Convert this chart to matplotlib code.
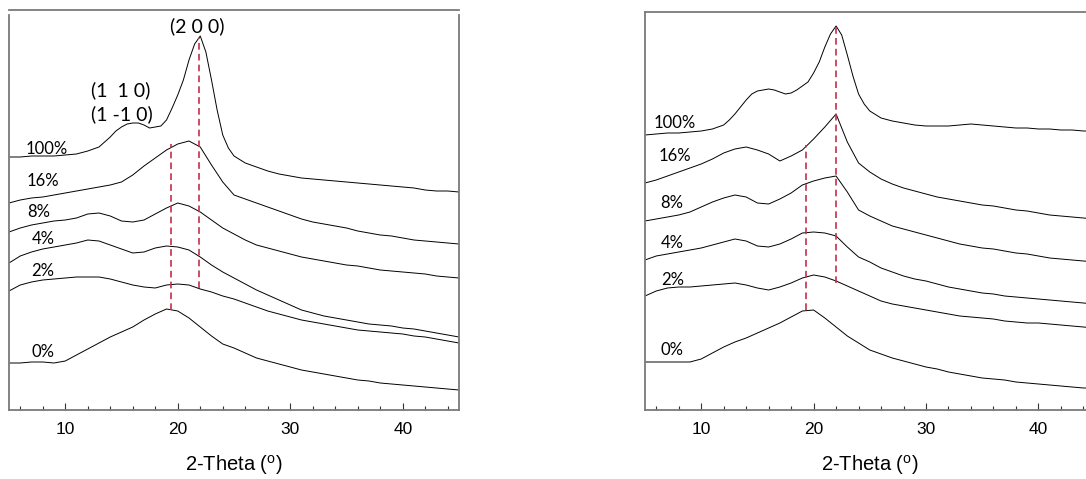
import matplotlib
matplotlib.use("Agg")
import matplotlib.pyplot as plt
import numpy as np

# ---------- data (arbitrary intensity units, stacked) ----------
two_theta = list(range(5, 46))
two_theta_100 = (list(range(5, 13))
                 + [12.5, 13, 13.5, 14, 14.5, 15, 15.5, 16, 16.5, 17,
                    17.5, 18, 18.5, 19, 19.5, 20, 20.5, 21, 21.5, 22, 22.5, 23, 23.5, 24, 24.5]
                 + list(range(25, 46)))

# left panel
left_100 = [253, 253, 254, 254, 254, 255, 256, 259,
            261, 263, 268, 273, 279, 283, 286, 287, 287, 285,
            282, 283, 284, 290, 302, 315, 330, 350, 366, 374, 358, 330, 300, 275, 262,
            254, 247, 243, 239, 236, 234, 232, 231, 230, 229, 228, 227, 226, 225, 224,
            223, 222, 220, 219, 219, 218]
left_16 = [207, 210, 212, 213, 215, 217, 219, 221, 223, 225, 228, 235, 244, 252, 260,
           266, 269, 263, 245, 228, 215, 211, 207, 203, 199, 195, 191, 188, 186, 184,
           182, 179, 177, 175, 174, 172, 170, 169, 168, 167, 166]
left_8 = [178, 182, 185, 187, 189, 190, 192, 196, 197, 194, 189, 188, 190, 196, 202,
          207, 204, 198, 190, 182, 176, 170, 165, 162, 159, 156, 153, 151, 149, 147,
          145, 144, 142, 140, 139, 138, 137, 136, 134, 133, 132]
left_4 = [147, 154, 158, 161, 163, 165, 167, 170, 169, 165, 161, 157, 158, 162, 164,
          163, 160, 153, 145, 138, 132, 126, 120, 115, 110, 105, 100, 97, 94, 92,
          90, 88, 86, 85, 84, 82, 81, 79, 77, 75, 73]
left_2 = [119, 125, 128, 130, 131, 132, 133, 133, 133, 131, 128, 125, 123, 122, 125,
          126, 125, 121, 118, 114, 111, 107, 103, 99, 96, 93, 90, 88, 86, 84,
          82, 80, 79, 78, 77, 76, 74, 73, 71, 69, 67]
left_0 = [47, 47, 48, 48, 47, 49, 55, 61, 67, 73, 78, 83, 90, 96, 101,
          99, 92, 83, 74, 66, 62, 57, 52, 49, 46, 43, 40, 38, 36, 34,
          32, 30, 29, 27, 26, 25, 24, 23, 22, 21, 20]

# right panel
right_100 = [275, 276, 277, 277, 278, 279, 281, 285,
             290, 296, 303, 310, 316, 319, 320, 321, 320, 318,
             316, 317, 320, 324, 328, 337, 348, 363, 376, 384, 375, 355, 334, 316, 306,
             299, 292, 289, 287, 285, 284, 284, 284, 285, 286, 285, 284, 283, 282, 282,
             281, 281, 280, 280, 279, 279]
right_16 = [227, 230, 234, 238, 242, 246, 251, 257, 261, 263, 260, 256, 249, 254, 260,
            271, 283, 296, 268, 247, 238, 231, 226, 222, 219, 216, 213, 211, 209, 207,
            205, 204, 202, 200, 199, 197, 195, 194, 193, 192, 191]
right_8 = [189, 191, 193, 195, 198, 203, 208, 212, 215, 213, 207, 206, 211, 217, 225,
           229, 232, 234, 218, 200, 194, 189, 184, 181, 178, 175, 172, 169, 166, 164,
           162, 161, 159, 157, 156, 154, 152, 151, 150, 149, 148]
right_4 = [150, 154, 156, 158, 160, 162, 165, 168, 171, 169, 164, 163, 166, 171, 177,
           178, 177, 174, 163, 153, 148, 142, 138, 134, 131, 129, 126, 123, 121, 119,
           117, 116, 114, 113, 112, 111, 110, 109, 108, 107, 106]
right_2 = [114, 119, 122, 123, 123, 124, 125, 126, 127, 125, 122, 120, 123, 127, 132,
           135, 133, 129, 124, 119, 114, 109, 106, 104, 102, 100, 98, 96, 94, 93,
           92, 91, 89, 88, 87, 87, 86, 85, 84, 83, 82]
right_0 = [48, 48, 48, 48, 48, 51, 57, 63, 68, 72, 77, 82, 87, 93, 99,
           100, 92, 83, 74, 67, 60, 56, 52, 49, 46, 43, 41, 38, 36, 34,
           32, 31, 30, 28, 27, 26, 25, 24, 23, 22, 22]

sample_labels = ["100%", "16%", "8%", "4%", "2%", "0%"]

# dashed reference lines: position, bottom, top
left_peaks = [19.4, 21.9]
left_peak_lo = [100, 122]
left_peak_hi = [266, 372]
right_peaks = [19.3, 22.0]
right_peak_lo = [100, 127]
right_peak_hi = [265, 384]

# label anchors (x in degrees, y in intensity units)
left_label_x = [6.5, 6.6, 6.6, 7.0, 7.0, 7.0]
left_label_y = [261, 229, 198, 171, 139, 58]
right_label_x = [5.8, 6.2, 6.4, 6.4, 6.4, 6.4]
right_label_y = [287, 254, 207, 167, 130, 60]

# ---------- figure ----------
W, H = 1086, 479
fig = plt.figure(figsize=(W / 100, H / 100), dpi=100)

SPINE = "#7a7a7a"
RED = "#c4304c"
LABEL_FONT = ["Lato", "DejaVu Sans"]
AXIS_FONT = ["Liberation Sans", "DejaVu Sans"]


def style_axes(ax, top):
    ax.set_xlim(5, 45)
    ax.set_ylim(0, top)
    ax.set_yticks([])
    ax.set_xticks([10, 20, 30, 40])
    ax.set_xticks(np.arange(6, 46, 2), minor=True)
    ax.tick_params(axis="x", which="both", direction="in", color="#333333",
                   labelsize=12.5, pad=9)
    ax.tick_params(axis="x", which="major", length=5, width=0.8)
    ax.tick_params(axis="x", which="minor", length=3, width=0.8)
    for s in ax.spines.values():
        s.set_color(SPINE)
        s.set_linewidth(1.3)
    for lab in ax.get_xticklabels():
        lab.set_family(AXIS_FONT)
    ax.set_xlabel("2-Theta ($^{\\mathregular{o}}$)", fontsize=14.5,
                  family=AXIS_FONT, labelpad=11)


# left panel
axL = fig.add_axes([9 / W, 69 / H, 450 / W, 400.5 / H])
style_axes(axL, 400.5)
axL.spines["left"].set_bounds(0, 395)
axL.spines["right"].set_bounds(0, 395)
axL.plot(two_theta_100, left_100, color="black", lw=0.7)
for ys in [left_16, left_8, left_4, left_2, left_0]:
    axL.plot(two_theta, ys, color="black", lw=0.7)
axL.vlines(left_peaks, left_peak_lo, left_peak_hi, colors=RED, linestyles=(0, (4, 2.5)),
           lw=1.2)
for t, x, y in zip(sample_labels, left_label_x, left_label_y):
    axL.text(x, y, t, fontsize=12, family=LABEL_FONT, ha="left", va="center")
axL.text(21.7, 384, "(2 0 0)", fontsize=14, family=LABEL_FONT, ha="center", va="center")
axL.text(12.3, 320, "(1  1 0)", fontsize=14, family=LABEL_FONT, ha="left", va="center")
axL.text(12.3, 296, "(1 -1 0)", fontsize=14, family=LABEL_FONT, ha="left", va="center")

# right panel (runs past the right edge of the image)
axR = fig.add_axes([645 / W, 69 / H, 449.6 / W, 398.3 / H])
style_axes(axR, 398.3)
axR.plot(two_theta_100, right_100, color="black", lw=0.7)
for ys in [right_16, right_8, right_4, right_2, right_0]:
    axR.plot(two_theta, ys, color="black", lw=0.7)
axR.vlines(right_peaks, right_peak_lo, right_peak_hi, colors=RED,
           linestyles=(0, (4, 2.5)), lw=1.2)
for t, x, y in zip(sample_labels, right_label_x, right_label_y):
    axR.text(x, y, t, fontsize=12, family=LABEL_FONT, ha="left", va="center")

fig.savefig("out.png", dpi=100)
